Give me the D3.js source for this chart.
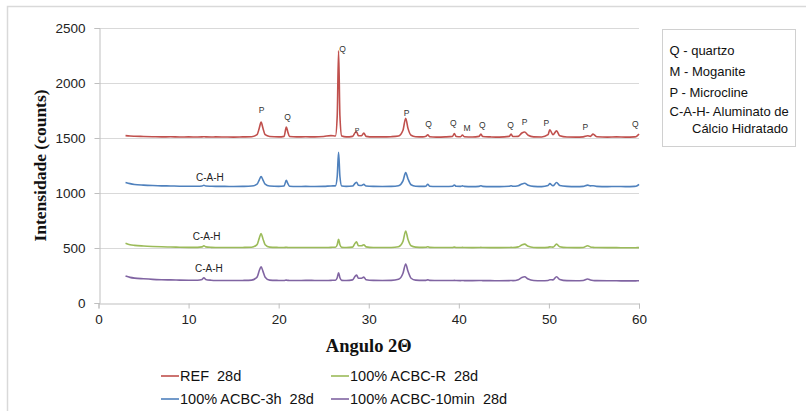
<!DOCTYPE html>
<html><head><meta charset="utf-8">
<script src="https://cdn.jsdelivr.net/npm/d3@7"></script>
<style>
html,body{margin:0;padding:0;background:#fff;}
svg text{white-space:pre;}
</style></head>
<body>
<svg id="chart" width="806" height="411"></svg>
<script>
// ---- data ----
const angles = [3,3.5,4,5,6,7,8,9,10,11,
  11.5,11.7,11.9,12.5,13,14,15,16,17,17.6,
  17.85,18.05,18.25,18.5,19,20,20.6,20.85,21.0,21.2,
  22,23,24,25,25.8,26.3,26.5,26.65,26.8,27.0,
  27.5,28.2,28.5,28.65,28.85,29.2,29.45,29.7,30.5,31.5,
  32.5,33.3,33.8,34.1,34.35,34.7,35.2,36,36.35,36.55,
  36.75,37.5,38.5,39.3,39.5,39.7,40.2,40.4,40.6,41.5,
  42.25,42.45,42.65,43.5,44.5,45.6,45.8,46.0,46.6,47.0,
  47.3,47.7,48.3,49.2,49.9,50.1,50.45,50.85,51.2,52,
  53,53.8,54.3,54.6,54.9,55.3,56.5,57.5,58.5,59.5,
  59.8,60];

const ref28 = [1522,1518,1516,1514,1512,1510,1511,1509,1510,1509,
  1510,1512,1510,1509,1510,1509,1508,1510,1512,1530,
  1590,1645,1590,1530,1514,1510,1515,1600,1560,1514,
  1510,1511,1510,1514,1522,1518,1700,2293,1700,1518,
  1510,1515,1550,1557,1520,1520,1545,1515,1510,1510,
  1512,1518,1570,1680,1590,1525,1512,1510,1515,1530,
  1512,1508,1510,1515,1540,1514,1512,1527,1512,1509,
  1515,1535,1513,1510,1508,1515,1535,1513,1515,1545,
  1555,1525,1510,1509,1530,1575,1530,1565,1520,1509,
  1508,1510,1520,1515,1535,1512,1508,1510,1508,1510,
  1520,1537];

const acbc3h = [1095,1085,1078,1072,1068,1065,1064,1062,1062,1061,
  1063,1070,1063,1061,1060,1060,1059,1060,1063,1080,
  1120,1150,1120,1080,1063,1060,1064,1115,1090,1062,
  1059,1060,1059,1060,1064,1065,1150,1370,1150,1064,
  1060,1063,1090,1098,1070,1068,1078,1064,1060,1059,
  1060,1066,1110,1185,1130,1075,1062,1060,1062,1080,
  1062,1059,1059,1062,1073,1061,1060,1065,1060,1058,
  1060,1066,1060,1058,1058,1061,1066,1061,1066,1082,
  1088,1070,1060,1058,1068,1085,1066,1095,1068,1060,
  1058,1060,1072,1065,1066,1060,1058,1059,1058,1060,
  1066,1078];

const acbcR = [543,530,524,518,514,511,509,507,506,506,
  510,521,510,506,505,505,504,505,507,530,
  590,632,585,530,508,505,504,507,505,504,
  504,505,504,504,506,507,530,578,530,506,
  504,508,545,556,520,520,530,510,505,505,
  505,512,560,655,580,520,508,506,507,512,
  506,505,504,505,508,504,504,506,504,503,
  504,506,504,503,503,504,506,504,510,528,
  535,515,505,503,506,510,508,535,512,504,
  503,505,520,510,506,504,503,503,502,502,
  503,503];

const acbc10 = [245,233,226,220,215,212,210,208,207,207,
  214,230,214,207,205,205,204,205,208,235,
  295,330,290,235,208,205,204,208,206,204,
  204,206,205,204,206,207,230,275,230,206,
  204,210,245,254,225,225,235,212,206,205,
  206,215,270,355,290,225,208,206,206,210,
  206,205,204,204,206,204,203,205,203,203,
  204,205,203,203,202,203,205,203,212,232,
  238,218,205,202,205,212,210,238,214,203,
  202,205,218,210,205,203,202,202,201,201,
  202,202];

const seriesNames = ["REF  28d","100% ACBC-R  28d","100% ACBC-3h  28d","100% ACBC-10min  28d"];
const seriesColors = ["#c0504d","#9bbb59","#4f81bd","#8064a2"];
const seriesValues = [ref28, acbcR, acbc3h, acbc10];

const xTicks = [0,10,20,30,40,50,60];
const yTicks = [0,500,1000,1500,2000,2500];

// peak annotations
const peakText  = ["P","Q","Q","P","P","Q","Q","M","Q","Q","P","P","P","Q"];
const peakAngle = [18.1,21.0,27.1,28.7,34.2,36.65,39.4,40.9,42.6,45.75,47.3,49.7,54.05,59.6];
const peakInt   = [1755,1690,2310,1565,1727,1627,1636,1590,1618,1618,1645,1636,1600,1627];

const cahAngle = [12.37,12.0,12.25];
const cahInt   = [1145,609,315];

const keyLines = ["Q - quartzo","M - Moganite","P - Microcline","C-A-H- Aluminato de","Cálcio Hidratado"];

// ---- drawing ----
const svg = d3.select("#chart");
const L = 98.5, R = 639, T = 28, B = 303;
const x = d3.scaleLinear().domain([0,60]).range([L,R]);
const y = d3.scaleLinear().domain([0,2500]).range([B,T]);
const font = "Arial, 'Liberation Sans', sans-serif";

// outer frame
svg.append("path").attr("d","M7.5,411 L7.5,6.5 L806,6.5").attr("fill","none").attr("stroke","#d9d9d9").attr("stroke-width",1.5);

// gridlines
svg.append("g").selectAll("line").data(yTicks.filter(d=>d>0)).join("line")
  .attr("x1",L).attr("x2",R).attr("y1",d=>Math.round(y(d))+0.5).attr("y2",d=>Math.round(y(d))+0.5)
  .attr("stroke","#d9d9d9").attr("stroke-width",1);

// axes
const xAxis = svg.append("g").attr("transform",`translate(0,${Math.round(B)+0.5})`)
  .call(d3.axisBottom(x).tickValues(xTicks).tickSize(5).tickPadding(6).tickFormat(d3.format("d")));
const yAxis = svg.append("g").attr("transform",`translate(${Math.round(L)+0.5},0)`)
  .call(d3.axisLeft(y).tickValues(yTicks).tickSize(5).tickPadding(9).tickFormat(d3.format("d")));
[xAxis,yAxis].forEach(g=>{
  g.select(".domain").attr("stroke","#bfbfbf");
  g.selectAll(".tick line").attr("stroke","#bfbfbf");
  g.selectAll(".tick text").attr("font-family",font).attr("font-size",13.5).attr("fill","#222");
});

// series
const line = d3.line().x((d,i)=>x(angles[i])).y(d=>y(d)).curve(d3.curveMonotoneX);
seriesValues.forEach((vals,k)=>{
  svg.append("path").datum(vals).attr("d",line).attr("fill","none")
    .attr("stroke",seriesColors[k]).attr("stroke-width",1.6).attr("stroke-linejoin","round");
});

// peak labels
svg.append("g").selectAll("text").data(peakText).join("text")
  .attr("x",(d,i)=>x(peakAngle[i])).attr("y",(d,i)=>y(peakInt[i]))
  .attr("text-anchor","middle").attr("dominant-baseline","central")
  .attr("font-family",font).attr("font-size",(d,i)=>i===3?7:8.5).attr("fill","#333")
  .text(d=>d);

svg.append("g").selectAll("text").data(cahAngle).join("text")
  .attr("x",(d,i)=>x(d)).attr("y",(d,i)=>y(cahInt[i]))
  .attr("text-anchor","middle").attr("dominant-baseline","central")
  .attr("font-family",font).attr("font-size",10).attr("fill","#222")
  .text("C-A-H");

// axis titles
svg.append("text").attr("x",(L+R)/2).attr("y",352).attr("text-anchor","middle")
  .attr("font-family","'Liberation Serif','Times New Roman',serif").attr("font-weight","bold")
  .attr("font-size",18.5).attr("fill","#111").text("Angulo 2Θ");
svg.append("text").attr("transform",`translate(46,${(T+B)/2}) rotate(-90)`).attr("text-anchor","middle")
  .attr("font-family","'Liberation Serif','Times New Roman',serif").attr("font-weight","bold")
  .attr("font-size",17.5).attr("fill","#111").text("Intensidade (counts)");

// key box
svg.append("rect").attr("x",662.5).attr("y",29.5).attr("width",133).attr("height",117)
  .attr("fill","#fff").attr("stroke","#d0d0d0").attr("stroke-width",1);
const keyY = [50,71,92,111,128];
svg.append("g").selectAll("text").data(keyLines).join("text")
  .attr("x",(d,i)=>i===4?692:669.5).attr("y",(d,i)=>keyY[i]).attr("dominant-baseline","central")
  .attr("font-family",font).attr("font-size",13).attr("fill","#111").text(d=>d);

// bottom legend
const legX = [161,331,161,331], legY = [376,376,399,399];
const leg = svg.append("g").selectAll("g").data(seriesNames).join("g")
  .attr("transform",(d,i)=>`translate(${legX[i]},${legY[i]})`);
leg.append("line").attr("x1",0).attr("x2",18).attr("y1",0).attr("y2",0)
  .attr("stroke",(d,i)=>seriesColors[i]).attr("stroke-width",1.6);
leg.append("text").attr("x",19).attr("y",0).attr("dominant-baseline","central")
  .attr("font-family",font).attr("font-size",14.5).attr("fill","#111").text(d=>d);
</script>
</body></html>
